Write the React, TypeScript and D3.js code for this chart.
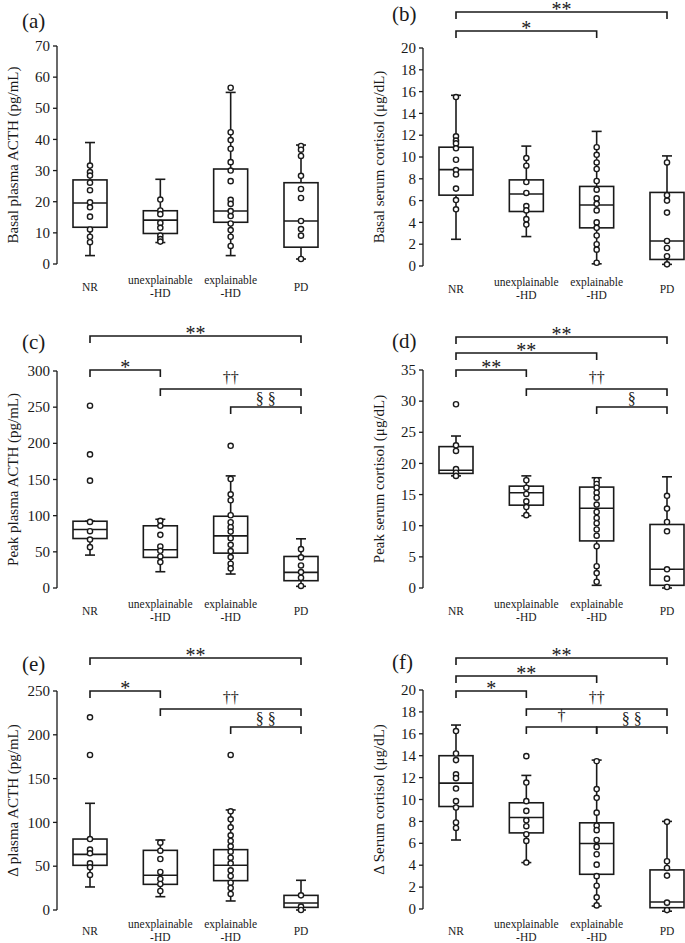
import React from "react";
import * as d3 from "d3";

// ---------- DATA ----------
const catLine1 = ["NR", "unexplainable", "explainable", "PD"];
const catLine2 = ["", "-HD", "-HD", ""];

// stats per category: [min, q1, median, q3, max]
const statsA = [[2.7, 11.8, 19.6, 27.0, 39.0], [6.9, 9.8, 14.1, 17.1, 27.2], [2.7, 13.4, 17.0, 30.5, 55.1], [1.6, 5.4, 13.8, 26.1, 38.2]];
const pointsA = [
  [31.6, 29.5, 28.4, 26.1, 23.7, 19.8, 18.2, 15.2, 11.1, 8.75, 7.0],
  [20.7, 17.2, 16.0, 13.2, 11.6, 9.1, 8.0, 7.2],
  [56.6, 42.3, 39.8, 37.0, 32.7, 30.0, 26.6, 20.6, 19.3, 17.0, 15.4, 13.0, 10.9, 8.75, 5.8],
  [37.9, 36.7, 34.7, 28.3, 24.1, 21.2, 13.8, 11.2, 9.1, 1.6],
];
const statsB = [[2.45, 6.5, 8.84, 10.9, 15.66], [2.7, 5.0, 6.6, 7.9, 11.0], [0.2, 3.5, 5.6, 7.3, 12.35], [0.15, 0.6, 2.3, 6.75, 10.1]];
const pointsB = [
  [15.5, 11.9, 11.5, 11.25, 10.8, 9.75, 8.8, 8.4, 7.1, 6.05, 5.2],
  [9.9, 9.2, 7.7, 6.7, 5.5, 5.1, 4.3, 3.8],
  [10.9, 10.2, 9.5, 8.9, 7.8, 7.0, 6.2, 5.7, 5.1, 4.0, 3.5, 2.8, 2.0, 1.5, 0.3],
  [9.5, 6.5, 6.0, 4.9, 2.3, 1.65, 0.9, 0.15],
];
const statsC = [[45.5, 68.4, 80.8, 92.3, 92.3], [22.5, 42.3, 52.8, 86.0, 95.0], [19.3, 48.2, 72.1, 99.2, 155.0], [2.3, 10.1, 21.6, 43.6, 68.0]];
const pointsC = [
  [252, 184.7, 148.4, 91.4, 78.5, 67, 56.5],
  [92.8, 86, 73.5, 57.4, 51.4, 43.6, 35.8],
  [196.6, 150.7, 129.5, 121.3, 100.6, 91, 84, 78, 68.9, 59.7, 51, 42.7, 33.5, 27.1],
  [53.7, 42.3, 31.2, 22, 14.2, 2.8],
];
const statsD = [[18.0, 18.4, 18.9, 22.7, 24.4], [11.6, 13.3, 15.3, 16.35, 18.0], [0.43, 7.56, 12.8, 16.2, 17.7], [0.0, 0.43, 3.0, 10.2, 17.85]];
const pointsD = [
  [29.5, 22.9, 22.0, 19.1, 18.5, 18.0],
  [17.3, 16.1, 15.1, 13.9, 13.0, 11.7],
  [17.3, 16.7, 16.1, 15.3, 14.5, 13.4, 12.2, 11.25, 10.4, 9.4, 8.4, 6.7, 3.5, 2.4, 1.0],
  [14.8, 12.75, 10.6, 9.1, 3.0, 1.5, 0.16],
];
const statsE = [[26.3, 51.0, 63.5, 81.0, 121.8], [15.2, 29.3, 39.6, 68.1, 79.9], [10.3, 33.5, 51.0, 68.9, 114.2], [0.0, 3.0, 8.0, 16.7, 33.9]];
const pointsE = [
  [220, 177, 81, 68.9, 64.7, 53.3, 48.7, 40],
  [76.9, 67.7, 58.2, 43.4, 35.4, 29.7, 21.7],
  [177, 112.6, 103.5, 94.4, 85.2, 78.8, 72.7, 66.6, 59.7, 53.3, 45.3, 38.8, 31.2, 25.1, 18.3],
  [16.7, 3.8, 0.0],
];
const statsF = [[6.3, 9.36, 11.5, 14.0, 16.8], [4.24, 6.95, 8.35, 9.7, 12.2], [0.27, 3.17, 5.98, 7.87, 13.6], [-0.2, 0.12, 0.64, 3.57, 8.0]];
const pointsF = [
  [16.25, 14.2, 13.6, 12.3, 11.95, 11.0, 9.85, 9.27, 7.9, 7.4],
  [13.96, 11.55, 9.85, 8.96, 8.1, 7.56, 6.83, 6.22, 4.24],
  [13.5, 10.95, 10.15, 8.8, 7.62, 7.2, 6.3, 5.67, 5.0, 4.05, 3.0, 2.13, 1.07, 0.33],
  [7.96, 4.36, 3.75, 3.05, 0.58, -0.1],
];

const ticksA = [0, 10, 20, 30, 40, 50, 60, 70];
const ticksB = [0, 2, 4, 6, 8, 10, 12, 14, 16, 18, 20];
const ticksC = [0, 50, 100, 150, 200, 250, 300];
const ticksD = [0, 5, 10, 15, 20, 25, 30, 35];
const ticksE = [0, 50, 100, 150, 200, 250];
const ticksF = [0, 2, 4, 6, 8, 10, 12, 14, 16, 18, 20];

// brackets: [fromCategory, toCategory, label]
const bracketsA: [number, number, string][] = [];
const bracketsB: [number, number, string][] = [[0, 3, "**"], [0, 2, "*"]];
const bracketsC: [number, number, string][] = [[0, 3, "**"], [0, 1, "*"], [1, 3, "††"], [2, 3, "§ §"]];
const bracketsD: [number, number, string][] = [[0, 3, "**"], [0, 2, "**"], [0, 1, "**"], [1, 3, "††"], [2, 3, "§"]];
const bracketsE: [number, number, string][] = [[0, 3, "**"], [0, 1, "*"], [1, 3, "††"], [2, 3, "§ §"]];
const bracketsF: [number, number, string][] = [[0, 3, "**"], [0, 2, "**"], [0, 1, "*"], [1, 3, "††"], [1, 2, "†"], [2, 3, "§ §"]];

const titles = [
  "Basal plasma ACTH (pg/mL)",
  "Basal serum cortisol (μg/dL)",
  "Peak plasma ACTH (pg/mL)",
  "Peak serum cortisol (μg/dL)",
  "Δ plasma ACTH (pg/mL)",
  "Δ Serum cortisol (μg/dL)",
];
const panelLetters = ["(a)", "(b)", "(c)", "(d)", "(e)", "(f)"];

// ---------- LAYOUT ----------
const layout = [
  { axisX: 57, y0: 264, yTop: 46, max: 70, lx: 22, ly: 28, cat: 0, by: [] as number[] },
  { axisX: 423, y0: 266, yTop: 48, max: 20, lx: 392, ly: 21, cat: 0, by: [12, 31] },
  { axisX: 57, y0: 588, yTop: 371, max: 300, lx: 22, ly: 349, cat: 0, by: [336, 370, 389, 407] },
  { axisX: 423, y0: 588, yTop: 370, max: 35, lx: 392, ly: 348, cat: 0, by: [337, 353, 370, 389, 407] },
  { axisX: 57, y0: 910, yTop: 691, max: 250, lx: 22, ly: 671, cat: -2, by: [658, 691, 709, 727] },
  { axisX: 423, y0: 909, yTop: 690, max: 20, lx: 392, ly: 669, cat: -1, by: [658, 676, 691, 709, 727, 727] },
];
const allStats = [statsA, statsB, statsC, statsD, statsE, statsF];
const allPoints = [pointsA, pointsB, pointsC, pointsD, pointsE, pointsF];
const allTicks = [ticksA, ticksB, ticksC, ticksD, ticksE, ticksF];
const allBrackets = [bracketsA, bracketsB, bracketsC, bracketsD, bracketsE, bracketsF];

const FONT = "Liberation Serif, serif";
const INK = "#1a1a1a";

function Panel({ i }: { i: number }) {
  const L = layout[i];
  const y = d3.scaleLinear().domain([0, L.max]).range([L.y0, L.yTop]);
  const x = d3.scalePoint<number>().domain([0, 1, 2, 3]).range([L.axisX + 33, L.axisX + 244]);
  const stats = allStats[i];
  const pts = allPoints[i];
  const boxW = 34;
  const capW = 10;
  const titleCy = (L.y0 + L.yTop) / 2;
  const cy0 = L.y0 + L.cat;
  return (
    <g>
      <text x={L.lx} y={L.ly} fontSize={21} fontFamily={FONT} fill={INK}>{panelLetters[i]}</text>
      <text
        transform={`translate(${L.axisX - 39},${titleCy}) rotate(-90)`}
        textAnchor="middle"
        fontSize={15}
        fontFamily={FONT}
        fill={INK}
      >{titles[i]}</text>
      {/* axis */}
      <line x1={L.axisX} x2={L.axisX} y1={y(0)} y2={y(L.max)} stroke={INK} strokeWidth={1.3} />
      {allTicks[i].map((t) => (
        <g key={t}>
          <line x1={L.axisX - 4} x2={L.axisX} y1={y(t)} y2={y(t)} stroke={INK} strokeWidth={1.3} />
          <text x={L.axisX - 7} y={y(t)} dy="0.34em" textAnchor="end" fontSize={15} fontFamily={FONT} fill={INK}>{t}</text>
        </g>
      ))}
      {/* categories */}
      {catLine1.map((c, k) => (
        <g key={c}>
          {catLine2[k] ? (
            <>
              <text x={x(k)} y={cy0 + 20} textAnchor="middle" fontSize={11.5} fontFamily={FONT} fill={INK}>{c}</text>
              <text x={x(k)} y={cy0 + 32.5} textAnchor="middle" fontSize={11.5} fontFamily={FONT} fill={INK}>{catLine2[k]}</text>
            </>
          ) : (
            <text x={x(k)} y={cy0 + 26.5} textAnchor="middle" fontSize={11.5} fontFamily={FONT} fill={INK}>{c}</text>
          )}
        </g>
      ))}
      {/* boxes */}
      {stats.map((s, k) => {
        const cx = x(k) as number;
        const [mn, q1, md, q3, mx] = s;
        return (
          <g key={k} stroke={INK} strokeWidth={1.6} fill="none">
            <line x1={cx} x2={cx} y1={y(mx)} y2={y(q3)} />
            <line x1={cx} x2={cx} y1={y(q1)} y2={y(mn)} />
            <line x1={cx - capW / 2} x2={cx + capW / 2} y1={y(mx)} y2={y(mx)} />
            <line x1={cx - capW / 2} x2={cx + capW / 2} y1={y(mn)} y2={y(mn)} />
            <rect x={cx - boxW / 2} y={y(q3)} width={boxW} height={y(q1) - y(q3)} fill="white" />
            <line x1={cx - boxW / 2} x2={cx + boxW / 2} y1={y(md)} y2={y(md)} />
            {pts[k].map((v, j) => (
              <circle key={j} cx={cx} cy={y(v)} r={2.6} fill="white" strokeWidth={1.4} />
            ))}
          </g>
        );
      })}
      {/* brackets */}
      {allBrackets[i].map(([a, b, lab], k) => {
        const by = L.by[k];
        const xa = x(a) as number;
        const xb = x(b) as number;
        const isStar = lab.includes("*");
        const isDag = lab.includes("†");
        const fs = isStar ? 20 : 16;
        const ty = isStar ? by + 4 : isDag ? by - 6 : by - 3;
        return (
          <g key={k}>
            <path d={`M${xa},${by + 7}V${by}H${xb}V${by + 7}`} fill="none" stroke={INK} strokeWidth={1.6} />
            <text x={(xa + xb) / 2} y={ty} textAnchor="middle" fontSize={fs} fontFamily={FONT} fill={INK}>{lab}</text>
          </g>
        );
      })}
    </g>
  );
}

export default function App() {
  return (
    <svg width={685} height={943} style={{ position: "absolute", left: 0, top: 0, background: "white" }}>
      <rect width={685} height={943} fill="white" />
      {layout.map((_, i) => <Panel key={i} i={i} />)}
    </svg>
  );
}
